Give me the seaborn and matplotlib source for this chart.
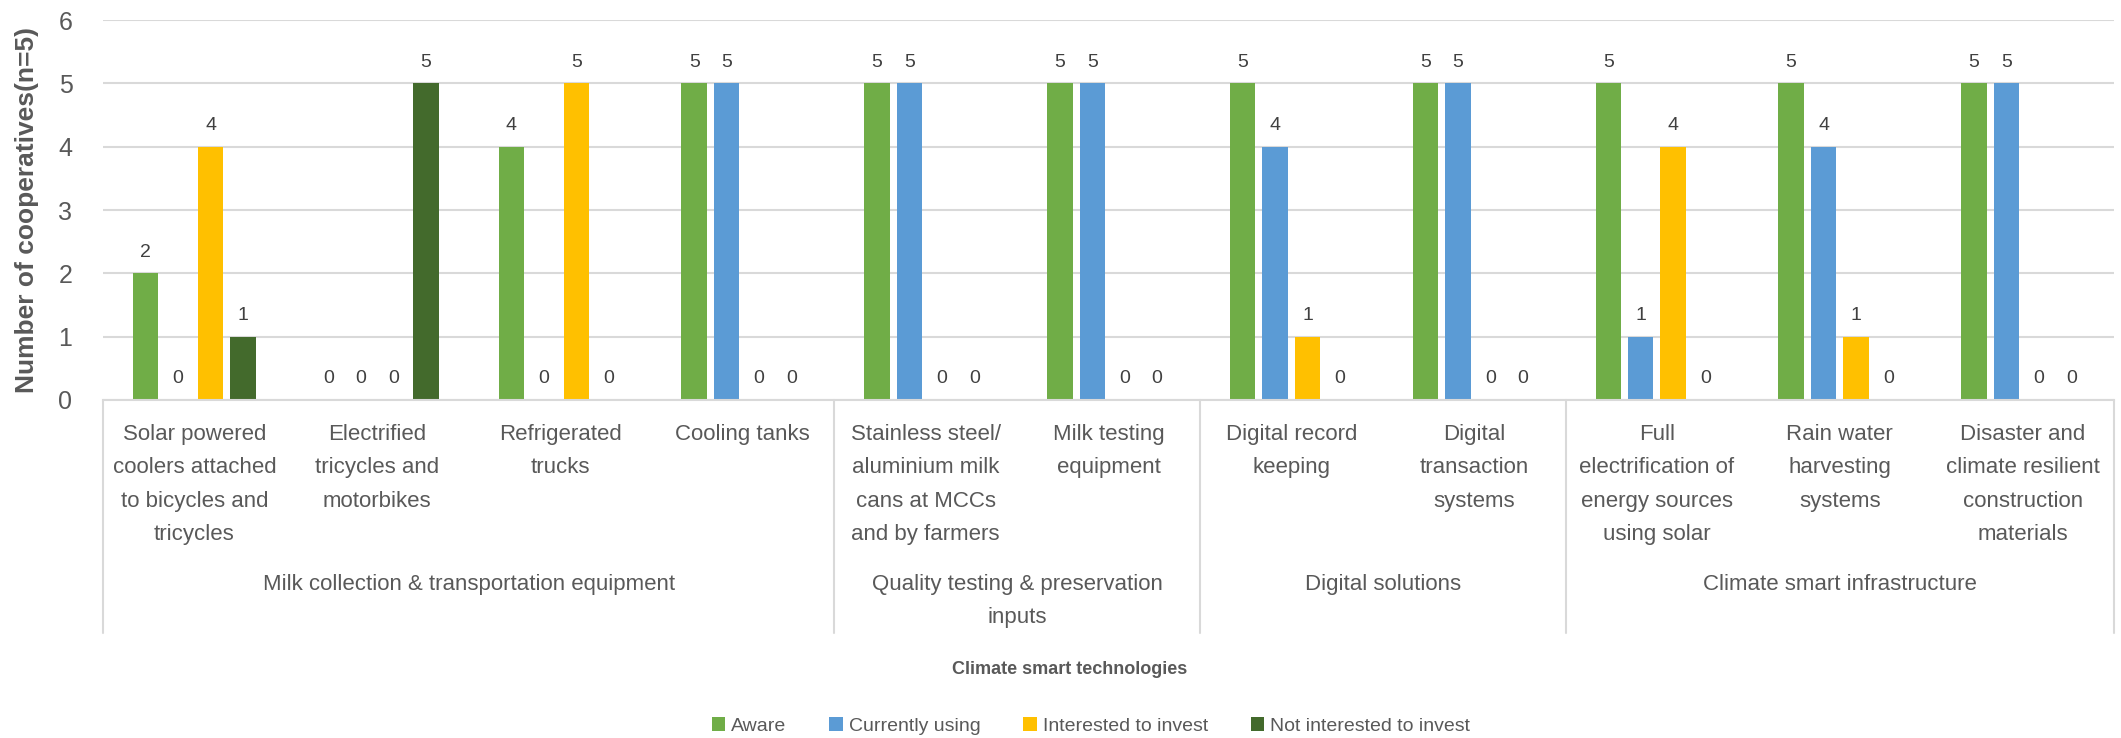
import matplotlib
matplotlib.use("Agg")
import matplotlib.pyplot as plt
import matplotlib.transforms as mtransforms
from matplotlib.patches import Patch
import seaborn as sns
import pandas as pd

# Technologies (tick labels, wrapped as displayed)
technologies = [
    "Solar powered\ncoolers attached\nto bicycles and\ntricycles",
    "Electrified\ntricycles and\nmotorbikes",
    "Refrigerated\ntrucks",
    "Cooling tanks",
    "Stainless steel/\naluminium milk\ncans at MCCs\nand by farmers",
    "Milk testing\nequipment",
    "Digital record\nkeeping",
    "Digital\ntransaction\nsystems",
    "Full\nelectrification of\nenergy sources\nusing solar",
    "Rain water\nharvesting\nsystems",
    "Disaster and\nclimate resilient\nconstruction\nmaterials",
]

# Technology groups and how many technologies each spans
groups = [
    "Milk collection & transportation equipment",
    "Quality testing & preservation\ninputs",
    "Digital solutions",
    "Climate smart infrastructure",
]
group_sizes = [4, 2, 2, 3]

# Number of cooperatives per response
aware = [2, 0, 4, 5, 5, 5, 5, 5, 5, 5, 5]
currently_using = [0, 0, 0, 5, 5, 5, 4, 5, 1, 4, 5]
interested_to_invest = [4, 0, 5, 0, 0, 0, 1, 0, 4, 1, 0]
not_interested_to_invest = [1, 5, 0, 0, 0, 0, 0, 0, 0, 0, 0]

series_names = ["Aware", "Currently using", "Interested to invest", "Not interested to invest"]
series_colors = ["#70AD47", "#5B9BD5", "#FFC000", "#436A2C"]

series_values = [aware, currently_using, interested_to_invest, not_interested_to_invest]
df = pd.DataFrame(
    [
        {"technology": t, "response": name, "count": v}
        for name, vals in zip(series_names, series_values)
        for t, v in zip(technologies, vals)
    ]
)

sns.set_theme(style="white")
plt.rcParams["font.family"] = ["Liberation Sans", "DejaVu Sans"]

W, H = 2121, 738
fig, ax = plt.subplots(figsize=(W / 100, H / 100), dpi=100)
fig.subplots_adjust(left=103 / W, right=2114 / W, bottom=1 - 400 / H, top=1 - 20 / H)

sns.barplot(
    data=df, x="technology", y="count", hue="response",
    order=technologies, hue_order=series_names,
    palette=dict(zip(series_names, series_colors)),
    width=0.71, gap=0.215, saturation=1, linewidth=0,
    errorbar=None, legend=False, ax=ax,
)

grey = "#595959"
ax.set_ylim(0, 6)
ax.set_yticks(range(7))
ax.yaxis.grid(True, color="#D9D9D9", linewidth=1.5)
ax.set_axisbelow(True)
for side in ("top", "right", "left"):
    ax.spines[side].set_visible(False)
ax.spines["bottom"].set_color("#D9D9D9")
ax.spines["bottom"].set_linewidth(1.5)
ax.tick_params(axis="y", length=0, labelsize=18, colors=grey, pad=22)
ax.tick_params(axis="x", length=0, labelsize=16, colors=grey, pad=17)
ax.set_xticks(range(len(technologies)))
ax.set_xticklabels(technologies, linespacing=1.78, va="top", ha="center")
ax.set_xlabel("")
ax.set_ylabel("")

# Value labels above each bar
for container in ax.containers:
    ax.bar_label(container, fmt="%g", padding=9, fontsize=14, color="#404040")

# Group separators and group names below the tick labels
blend = mtransforms.blended_transform_factory(ax.transData, ax.transAxes)
blend_fig = mtransforms.blended_transform_factory(ax.transData, fig.transFigure)
start = -0.5
ax.plot([start, start], [0, -233 / 380], transform=blend, color="#D9D9D9", lw=1.5,
        clip_on=False, scalex=False, scaley=False)
for name, size in zip(groups, group_sizes):
    end = start + size
    ax.plot([end, end], [0, -233 / 380], transform=blend, color="#D9D9D9", lw=1.5,
            clip_on=False, scalex=False, scaley=False)
    ax.text((start + end) / 2, 1 - 574 / H, name, transform=blend_fig,
            ha="center", va="top", fontsize=16, color=grey, linespacing=1.78)
    start = end
ax.set_xlim(-0.5, len(technologies) - 0.5)

fig.text(1070 / W, 1 - 670 / H, "Climate smart technologies", ha="center", va="center",
         fontsize=13, fontweight="bold", color=grey)
fig.text(27 / W, 1 - 210 / H, "Number of cooperatives(n=5)", rotation=90,
         ha="center", va="center", fontsize=19, fontweight="bold", color=grey)

handles = [Patch(facecolor=c, edgecolor="none") for c in series_colors]
fig.legend(handles, series_names, loc="center", bbox_to_anchor=(1091 / W, 1 - 726 / H),
           ncol=4, frameon=False, fontsize=14, handlelength=0.7, handleheight=0.7,
           columnspacing=2.2, handletextpad=0.3, labelcolor=grey)

fig.savefig("out.png", dpi=100)
